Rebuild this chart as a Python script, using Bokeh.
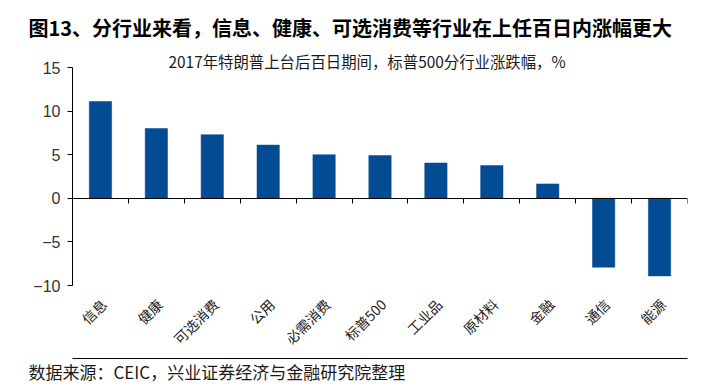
from bokeh.plotting import figure
from bokeh.models import Range1d, LinearAxis, FixedTicker, Title, ColumnDataSource
from bokeh.embed import file_html
from bokeh.resources import INLINE
import math

# ---- data ----
sectors = ["信息", "健康", "可选消费", "公用", "必需消费", "标普500", "工业品", "原材料", "金融", "通信", "能源"]
changes = [11.1, 8.0, 7.3, 6.1, 5.0, 4.9, 4.05, 3.75, 1.65, -7.9, -8.9]
y_ticks = [-10, -5, 0, 5, 10, 15]
y_tick_labels = ["\u221210", "\u22125", "0", "5", "10", "15"]
title_text = "图13、分行业来看，信息、健康、可选消费等行业在上任百日内涨幅更大"
subtitle_text = "2017年特朗普上台后百日期间，标普500分行业涨跌幅，%"
source_text = "数据来源：CEIC，兴业证券经济与金融研究院整理"

CJK = "Noto Sans CJK SC"
BAR = "#034C94"

n = len(sectors)
centers = [i + 0.5 for i in range(n)]
label_pos = [c + 0.06 for c in centers]
src = ColumnDataSource(dict(x=centers, sector=sectors, change=changes))

p = figure(width=725, height=385, output_backend="svg", toolbar_location=None,
           x_range=Range1d(0, n), y_range=Range1d(-10, 15), title=None,
           min_border_left=72, min_border_right=38, min_border_top=67, min_border_bottom=98)
p.outline_line_color = None
p.xgrid.grid_line_color = None
p.ygrid.grid_line_color = None
p.background_fill_color = "white"
p.border_fill_color = "white"

p.vbar(x="x", top="change", bottom=0, width=0.4, source=src,
       fill_color=BAR, line_color=BAR, line_width=0.5)

# category labels at the bottom
xa = p.xaxis[0]
xa.ticker = FixedTicker(ticks=label_pos)
xa.major_label_overrides = {c: s for c, s in zip(label_pos, sectors)}
xa.axis_line_color = None
xa.major_tick_line_color = None
xa.minor_tick_line_color = None
xa.major_label_orientation = math.pi / 4
xa.major_label_text_font = CJK
xa.major_label_text_font_size = "14px"
xa.major_label_text_color = "#222222"
xa.major_label_standoff = 10

# zero line with boundary ticks
zero_axis = LinearAxis(fixed_location=0,
                       ticker=FixedTicker(ticks=list(range(1, n + 1))),
                       major_label_text_font_size="0px", major_label_standoff=0,
                       major_tick_out=5, major_tick_in=0, minor_tick_line_color=None,
                       axis_line_color="black", major_tick_line_color="black")
p.add_layout(zero_axis, "below")

# rule above the source line
rule_axis = LinearAxis(ticker=FixedTicker(ticks=[]), bounds=(-1.0, 12.0),
                       major_label_text_font_size="0px", major_label_standoff=0,
                       major_tick_out=0, major_tick_in=0, minor_tick_line_color=None,
                       axis_line_color="black", axis_line_width=1)
p.add_layout(rule_axis, "below")

# y axis
ya = p.yaxis[0]
ya.ticker = FixedTicker(ticks=y_ticks)
ya.major_label_overrides = {t: l for t, l in zip(y_ticks, y_tick_labels)}
ya.major_label_text_font = "Liberation Sans"
ya.major_label_text_font_size = "16px"
ya.major_label_text_color = "#333333"
ya.major_tick_out = 5
ya.major_tick_in = 0
ya.minor_tick_line_color = None
ya.axis_line_color = "black"
ya.major_tick_line_color = "black"
ya.major_label_standoff = 7

# titles
p.add_layout(Title(text=subtitle_text, align="left", offset=96, standoff=-8,
                   text_font=CJK, text_font_size="15.4px", text_font_style="normal",
                   text_color="#1a1a1a"), "above")
p.add_layout(Title(text=title_text, align="left", offset=-44, standoff=20,
                   text_font=CJK, text_font_size="20px", text_font_style="bold",
                   text_color="#000000"), "above")
p.add_layout(Title(text=source_text, align="left", offset=-44, standoff=0,
                   vertical_align="top",
                   text_font=CJK, text_font_size="17px", text_font_style="normal",
                   text_color="#1a1a1a"), "below")

open("out.html", "w").write(file_html(p, INLINE))
